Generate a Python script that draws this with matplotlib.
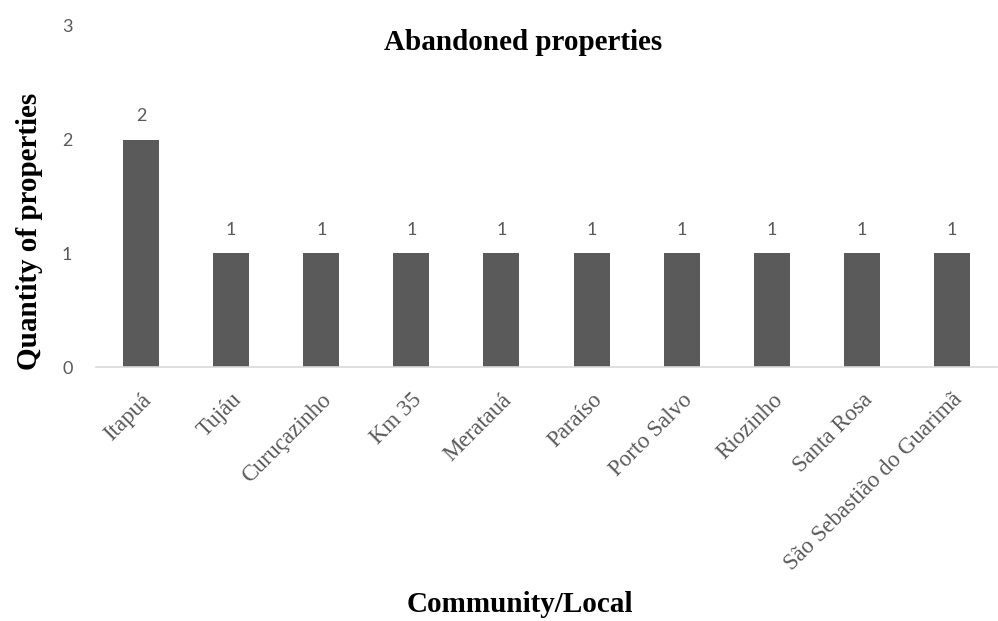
import matplotlib
matplotlib.use("Agg")
import matplotlib.pyplot as plt

categories = ["Itapuá", "Tujáu", "Curuçazinho", "Km 35", "Meratauá", "Paraíso",
              "Porto Salvo", "Riozinho", "Santa Rosa", "São Sebastião do Guarimã"]
values = [2, 1, 1, 1, 1, 1, 1, 1, 1, 1]
yticks = [0, 1, 2, 3]

serif = ["Liberation Serif", "DejaVu Serif"]
sans = ["Lato", "DejaVu Sans"]
gray = "#595959"

fig = plt.figure(figsize=(9.98, 6.21), dpi=100)
ax = fig.add_axes([96/998, 254/621, 901/998, (367-26)/621])

x = list(range(len(categories)))
bars = ax.bar(x, values, width=0.4, color="#5a5a5a")
ax.set_xlim(-0.5, len(categories) - 0.5)
ax.set_ylim(0, 3)
ax.set_yticks(yticks)
ax.set_yticklabels([str(t) for t in yticks], family=sans, fontsize=13, color=gray)
ax.tick_params(axis="y", length=0, pad=17)
ax.tick_params(axis="x", length=0, pad=16)
ax.set_xticks(x)
ax.set_xticklabels(categories, rotation=45, ha="right", rotation_mode="anchor",
                   family=serif, fontsize=16.5, color=gray)
for s in ["top", "right", "left"]:
    ax.spines[s].set_visible(False)
ax.spines["bottom"].set_color("#d9d9d9")
ax.spines["bottom"].set_linewidth(1.2)

for xi, v in zip(x, values):
    ax.annotate(str(v), (xi, v), xytext=(0, 11), textcoords="offset points",
                ha="center", va="bottom", family=sans, fontsize=13, color=gray)

fig.text(523/998, 1 - 43/621, "Abandoned properties", ha="center", va="center",
         family=serif, fontsize=21, fontweight="bold")
fig.text(30/998, 1 - 231/621, "Quantity of properties", ha="center", va="center",
         rotation=90, family=serif, fontsize=21, fontweight="bold")
fig.text(520/998, 1 - 604/621, "Community/Local", ha="center", va="center",
         family=serif, fontsize=21, fontweight="bold")

fig.savefig("out.png", dpi=100)
